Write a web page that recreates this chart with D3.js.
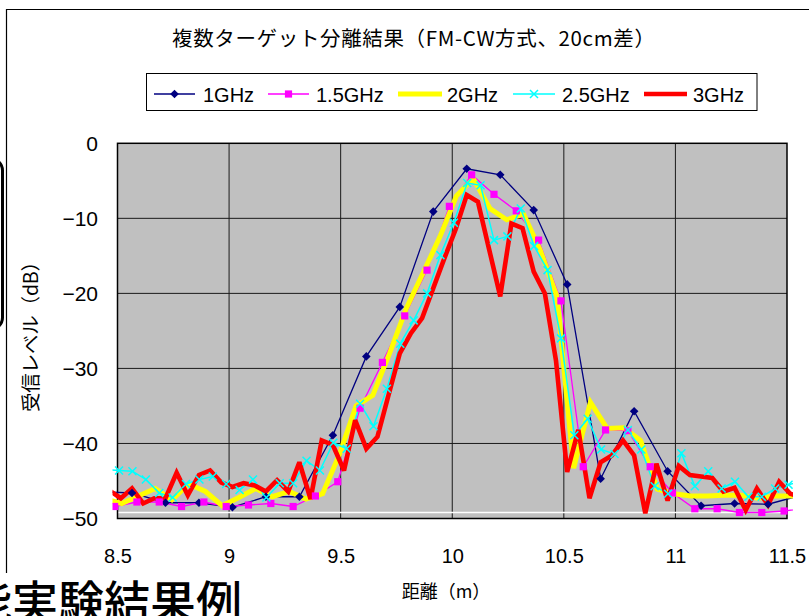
<!DOCTYPE html>
<html>
<head>
<meta charset="utf-8">
<script src="https://cdn.jsdelivr.net/npm/d3@7"></script>
<style>
  body { margin: 0; background: #fff; }
  text { font-family: "Liberation Sans", Arial, "Noto Sans CJK JP", sans-serif; fill: #000; }
  .jp { font-family: "Noto Sans CJK JP", "Noto Sans", sans-serif; }
</style>
</head>
<body>
<div id="chart"></div>
<script>
// tick labels
var xTicks = [8.5, 9, 9.5, 10, 10.5, 11, 11.5];
var yTicks = [0, -10, -20, -30, -40, -50];

var seriesNames = ["1GHz", "1.5GHz", "2GHz", "2.5GHz", "3GHz"];

// each series is sampled on its own range grid (first distance, bin width in m)
var dist1GHz = [8.415, 0.15];
var dist15GHz = [8.487, 0.1];
var dist2GHz = [8.444, 0.075];
var dist25GHz = [8.447, 0.06];
var dist3GHz = [8.465, 0.05];

// received level (dB)
var level1GHz = [-46.4, -46.6, -47.9, -47.9, -48.5, -47.1, -47.1, -38.9, -28.4, -21.8, -9.1,
  -3.4, -4.2, -8.9, -18.8, -44.7, -35.7, -43.7, -48.3, -48.0, -48.1, -46.9];

var level15GHz = [-48.4, -47.8, -47.8, -48.4, -47.8, -48.4, -48.2, -48.0, -48.4, -47.0,
  -45.1, -35.3, -29.2, -23.0, -16.9, -8.4, -4.2, -6.8, -9.0, -12.9,
  -21.0, -43.1, -38.2, -38.3, -43.1, -46.6, -48.7, -48.7, -49.2, -49.2, -49.0, -48.6];

var level2GHz = [-47.4, -48.0, -47.0, -46.0, -47.5, -45.4, -46.4, -48.3, -47.2, -46.0,
  -47.1, -46.4, -47.4, -46.7, -41.5, -35.0, -33.6, -28.0, -22.0, -17.3,
  -12.5, -7.0, -4.7, -8.7, -10.2, -9.4, -14.2, -20.4, -43.3, -34.5,
  -38.0, -37.9, -39.6, -46.1, -46.7, -47.0, -47.0, -46.9, -46.9, -47.3,
  -47.0, -47.0, -46.9];

var level25GHz = [-43.5, -43.6, -43.7, -44.8, -46.6, -47.2, -45.4, -44.8, -44.4, -45.4,
  -46.2, -44.8, -47.2, -45.3, -45.3, -42.3, -43.6, -39.9, -40.7, -34.7,
  -37.7, -32.7, -26.7, -23.6, -20.0, -14.9, -10.6, -5.3, -5.6, -12.9,
  -12.4, -8.7, -13.7, -16.9, -26.0, -38.9, -36.7, -40.8, -41.4, -38.2,
  -40.8, -45.7, -46.7, -41.3, -45.7, -43.7, -46.0, -45.1, -47.1, -47.1,
  -46.0, -45.5, -45.0];

var level3GHz = [-46.3, -47.3, -46.0, -48.0, -47.3, -47.3, -43.9, -46.9, -44.2, -43.6,
  -45.2, -45.8, -45.3, -45.6, -46.4, -44.9, -46.4, -42.5, -47.4, -39.6,
  -40.2, -43.6, -36.9, -40.7, -39.1, -33.5, -28.0, -25.3, -23.3, -19.3,
  -15.3, -11.5, -6.9, -7.8, -14.1, -20.4, -10.7, -11.3, -17.1, -20.0,
  -29.0, -43.8, -38.2, -47.3, -42.5, -41.6, -39.6, -41.6, -49.3, -42.7,
  -47.6, -43.0, -44.2, -44.4, -44.6, -46.4, -45.9, -48.9, -46.0, -48.2,
  -45.1, -46.7, -47.2];

// white horizontal line near the bottom of the plot
var floorLevel = -49.2;

function toPoints(grid, levels) {
  return levels.map(function(v, i) {
    return { dist: grid[0] + i * grid[1], level: v };
  });
}

function drawChart() {
  var width = 809, height = 616;
  var plot = { left: 117.5, right: 787, top: 143.3, bottom: 518.5 };

  var svg = d3.select("#chart").append("svg")
      .attr("width", width)
      .attr("height", height)
      .style("display", "block")
      .style("background", "#fff");

  // outer frame of the chart object, and the slide decorations around it
  svg.append("path")
    .attr("d", "M6.5,573 L6.5,9.5 L809,9.5")
    .attr("fill", "none")
    .attr("stroke", "#000")
    .attr("stroke-width", 1.2);

  svg.append("rect")
    .attr("x", -40).attr("y", 158.5)
    .attr("width", 42.5).attr("height", 171)
    .attr("rx", 12)
    .attr("fill", "none")
    .attr("stroke", "#000")
    .attr("stroke-width", 3);

  // slide heading below the chart, cut by the window edge as in the source
  svg.append("text")
    .attr("class", "jp")
    .attr("x", -34)
    .attr("y", 619)
    .style("font-size", "46px")
    .style("font-weight", 500)
    .text("能実験結果例");

  var x = d3.scaleLinear().domain([8.5, 11.5]).range([plot.left, plot.right]);
  var y = d3.scaleLinear().domain([-50, 0]).range([plot.bottom, plot.top]);

  // plot area
  svg.append("rect")
    .attr("x", plot.left).attr("y", plot.top)
    .attr("width", plot.right - plot.left)
    .attr("height", plot.bottom - plot.top)
    .attr("fill", "#c0c0c0");

  svg.append("g").selectAll("line")
    .data(xTicks.slice(1, -1))
    .enter().append("line")
      .attr("x1", function(d) { return x(d); })
      .attr("x2", function(d) { return x(d); })
      .attr("y1", plot.top).attr("y2", plot.bottom)
      .attr("stroke", "#1a1a1a")
      .attr("stroke-width", 1);

  svg.append("g").selectAll("line")
    .data(yTicks.slice(1, -1))
    .enter().append("line")
      .attr("x1", plot.left).attr("x2", plot.right)
      .attr("y1", function(d) { return y(d); })
      .attr("y2", function(d) { return y(d); })
      .attr("stroke", "#1a1a1a")
      .attr("stroke-width", 1);

  svg.append("line")
    .attr("x1", plot.left).attr("x2", plot.right)
    .attr("y1", y(floorLevel)).attr("y2", y(floorLevel))
    .attr("stroke", "#fff")
    .attr("stroke-width", 1.3);

  svg.append("rect")
    .attr("x", plot.left).attr("y", plot.top)
    .attr("width", plot.right - plot.left)
    .attr("height", plot.bottom - plot.top)
    .attr("fill", "none")
    .attr("stroke", "#000")
    .attr("stroke-width", 1.5);

  // axes (labels only)
  var xAxis = d3.axisBottom(x).tickValues(xTicks).tickSize(0).tickPadding(30)
      .tickFormat(function(d) { return d3.format("")(d); });
  var gx = svg.append("g")
      .attr("transform", "translate(0," + plot.bottom + ")")
      .call(xAxis);
  gx.select(".domain").remove();
  gx.selectAll("text")
    .style("font-family", "'Liberation Sans', Arial, sans-serif")
    .style("font-size", "20px")
    .attr("fill", "#000");

  var yAxis = d3.axisLeft(y).tickValues(yTicks).tickSize(0).tickPadding(19.5);
  var gy = svg.append("g")
      .attr("transform", "translate(" + plot.left + ",0)")
      .call(yAxis);
  gy.select(".domain").remove();
  gy.selectAll("text")
    .style("font-family", "'Liberation Sans', Arial, sans-serif")
    .style("font-size", "21px")
    .attr("fill", "#000");

  // titles
  svg.append("text")
    .attr("class", "jp")
    .attr("x", 172).attr("y", 46)
    .attr("textLength", 483)
    .attr("lengthAdjust", "spacing")
    .style("font-size", "20.5px")
    .text("複数ターゲット分離結果（FM-CW方式、20cm差）");

  svg.append("text")
    .attr("class", "jp")
    .attr("transform", "translate(38,332) rotate(-90)")
    .attr("text-anchor", "middle")
    .attr("textLength", 160)
    .attr("lengthAdjust", "spacing")
    .style("font-size", "19.5px")
    .text("受信レベル（dB）");

  svg.append("text")
    .attr("class", "jp")
    .attr("x", 446).attr("y", 598)
    .attr("text-anchor", "middle")
    .style("font-size", "18px")
    .text("距離（m）");

  // series
  var series = [
    { name: seriesNames[0], color: "#000080", width: 1.3, marker: "diamond", pts: toPoints(dist1GHz, level1GHz) },
    { name: seriesNames[1], color: "#ff00ff", width: 1.3, marker: "square", pts: toPoints(dist15GHz, level15GHz) },
    { name: seriesNames[2], color: "#ffff00", width: 5, marker: null, pts: toPoints(dist2GHz, level2GHz) },
    { name: seriesNames[3], color: "#00ffff", width: 1.5, marker: "cross", pts: toPoints(dist25GHz, level25GHz) },
    { name: seriesNames[4], color: "#ff0000", width: 4.6, marker: null, pts: toPoints(dist3GHz, level3GHz) }
  ];

  svg.append("clipPath")
    .attr("id", "clip")
    .append("rect")
      .attr("x", plot.left - 5).attr("y", plot.top - 8)
      .attr("width", plot.right - plot.left + 11)
      .attr("height", plot.bottom - plot.top + 14);

  var line = d3.line()
      .x(function(d) { return x(d.dist); })
      .y(function(d) { return y(d.level); });

  var gLines = svg.append("g").attr("clip-path", "url(#clip)");
  series.forEach(function(s) {
    gLines.append("path")
      .datum(s.pts)
      .attr("d", line)
      .attr("fill", "none")
      .attr("stroke", s.color)
      .attr("stroke-width", s.width)
      .attr("stroke-linejoin", "miter")
      .attr("stroke-miterlimit", 3);
  });

  // markers on top of all lines
  function drawMarker(g, kind, color) {
    if (kind === "diamond") {
      g.append("path").attr("d", "M0,-4.3L4.3,0L0,4.3L-4.3,0Z").attr("fill", color);
    } else if (kind === "square") {
      g.append("rect").attr("x", -3.6).attr("y", -3.6).attr("width", 7.2).attr("height", 7.2).attr("fill", color);
    } else if (kind === "cross") {
      g.append("path").attr("d", "M-4,-4L4,4M-4,4L4,-4")
        .attr("stroke", color).attr("stroke-width", 1.5).attr("fill", "none");
    }
  }

  series.forEach(function(s) {
    if (!s.marker) return;
    gLines.selectAll(null)
      .data(s.pts)
      .enter().append("g")
        .attr("transform", function(d) { return "translate(" + x(d.dist) + "," + y(d.level) + ")"; })
        .each(function() { drawMarker(d3.select(this), s.marker, s.color); });
  });

  // legend
  var legend = svg.append("g");
  legend.append("rect")
    .attr("x", 146.5).attr("y", 73.5)
    .attr("width", 610.5).attr("height", 37)
    .attr("fill", "#fff")
    .attr("stroke", "#000")
    .attr("stroke-width", 1);

  var legendPos = [
    { x1: 154, x2: 195, tx: 203 },
    { x1: 268, x2: 309, tx: 316 },
    { x1: 398, x2: 442, tx: 447 },
    { x1: 513, x2: 555, tx: 562 },
    { x1: 644, x2: 687, tx: 693 }
  ];
  series.forEach(function(s, i) {
    var p = legendPos[i];
    var ly = 94;
    legend.append("line")
      .attr("x1", p.x1).attr("x2", p.x2)
      .attr("y1", ly).attr("y2", ly)
      .attr("stroke", s.color)
      .attr("stroke-width", s.width);
    if (s.marker) {
      var g = legend.append("g").attr("transform", "translate(" + ((p.x1 + p.x2) / 2) + "," + ly + ")");
      drawMarker(g, s.marker, s.color);
    }
    legend.append("text")
      .attr("x", p.tx).attr("y", 101.5)
      .style("font-size", "20px")
      .text(s.name);
  });
}

drawChart();
</script>
</body>
</html>
